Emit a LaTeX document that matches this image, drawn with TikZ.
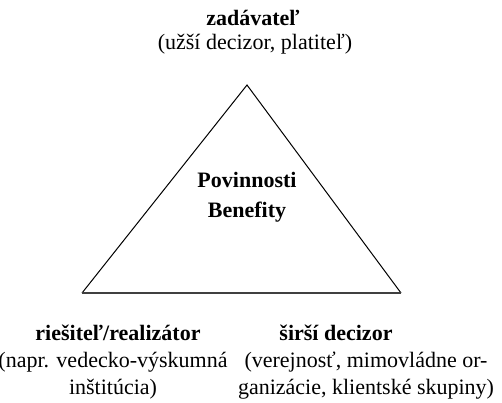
\documentclass[tikz,border=0pt]{standalone}
\usepackage{fontspec}
\setmainfont{Liberation Serif}
\usepackage{tikz}
\usetikzlibrary{calc}
\definecolor{baseline}{HTML}{404040}

\begin{document}
\begin{tikzpicture}[x=0.5pt,y=-0.5pt,
label/.style = {
  inner sep=0pt, anchor=base, font=\fontsize{11}{13.25}\selectfont
},
title/.style = {
  label, font=\fontsize{11}{13.25}\selectfont\bfseries
},
block/.style = {label, anchor=north, align=center},
side/.style = {line width=0.5pt, color=black, line join=miter},
bottom/.style = {line width=0.8pt, color=baseline}
]
\useasboundingbox (0,0) rectangle (502,402);

\coordinate (apex) at (247,85);
\coordinate (bl) at (82,293);
\coordinate (br) at (401,293);

\draw [side] (bl) -- (apex) -- (br);
\draw [bottom] (bl) -- (br);

\node [title] (duty) at (247,187) {Povinnosti};
\node [title] (benefit) at (247,217) {Benefity};

\node [title] (client) at (253,25) {zadávateľ};
\node [label] (clientsub) at (255,49) {(užší decizor, platiteľ)};

\node [title] (solver) at (118,340) {riešiteľ/realizátor};
\node [block] (solversub) at (113,352) {(napr. vedecko-výskumná\\inštitúcia)};

\node [title] (public) at (336,340) {širší decizor};
\node [block] (publicsub) at (366,352) {(verejnosť, mimovládne or-\\ganizácie, klientské skupiny)};

\end{tikzpicture}
\end{document}
